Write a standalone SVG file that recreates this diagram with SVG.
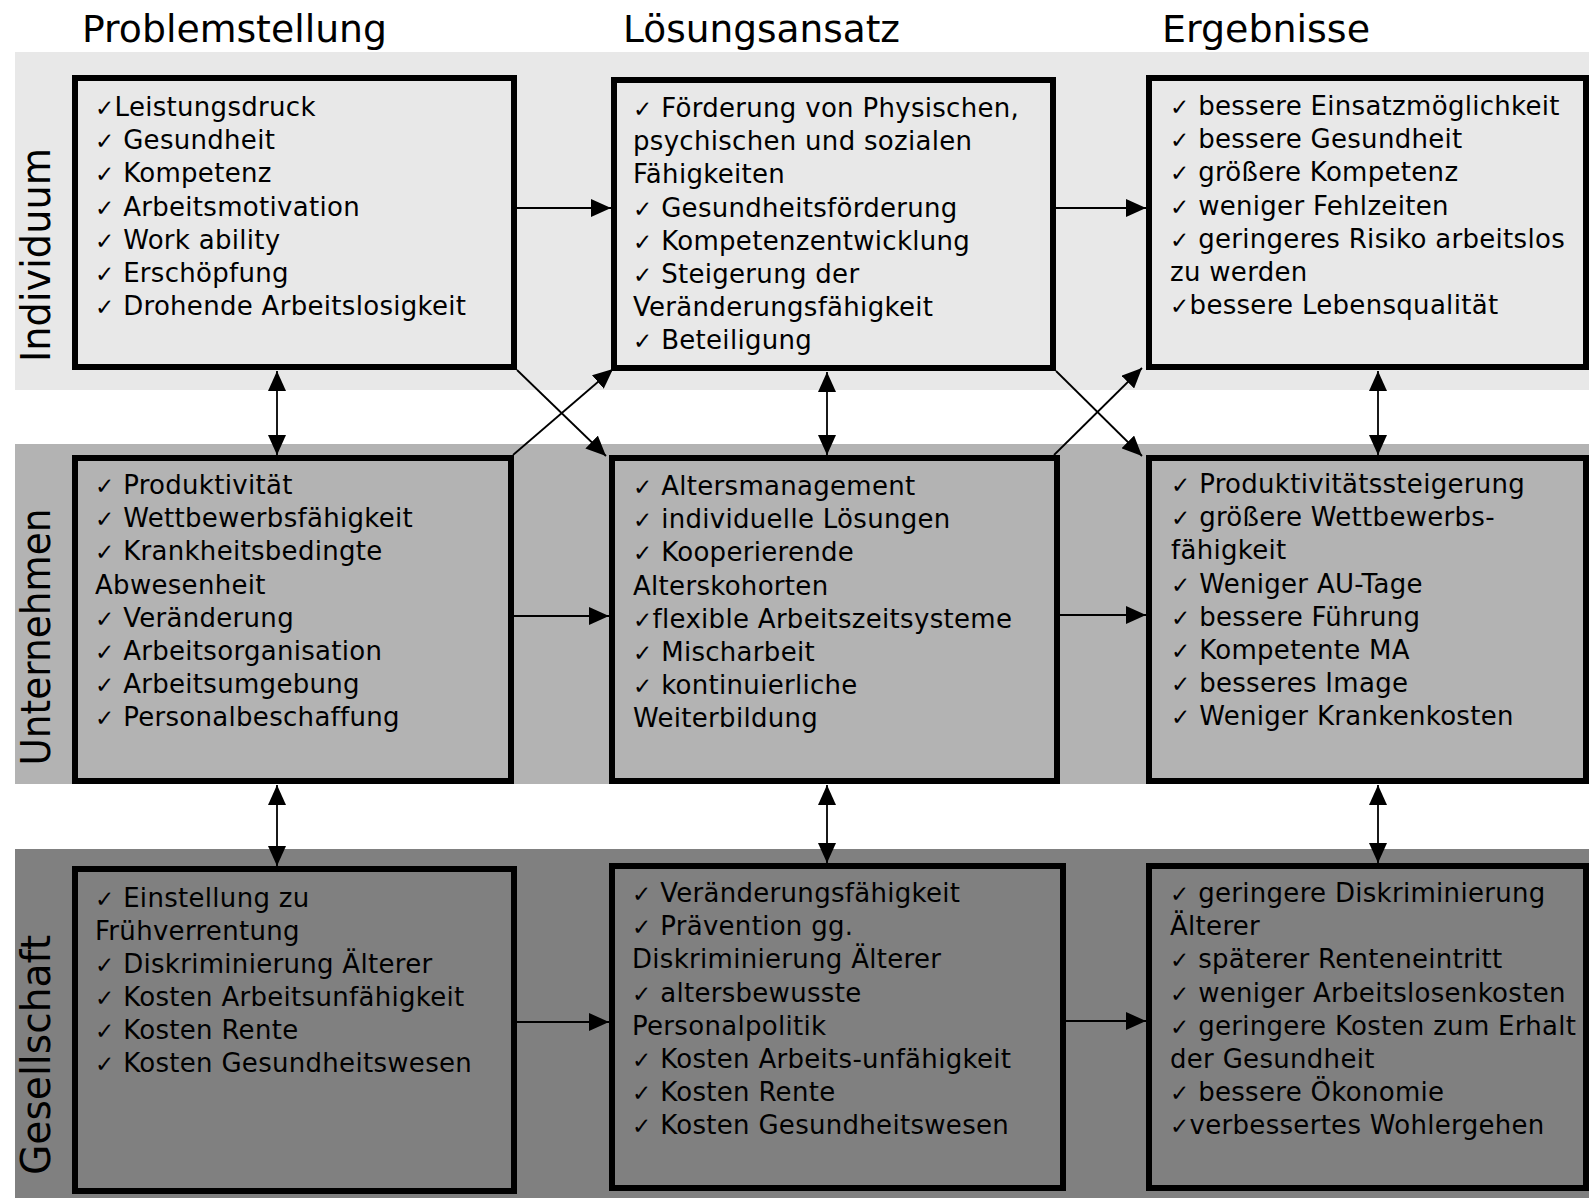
<svg xmlns="http://www.w3.org/2000/svg" width="1589" height="1198" viewBox="0 0 1589 1198">
<style>
  .hdr{font-family:"DejaVu Sans","Liberation Sans",sans-serif;font-size:37px;fill:#000}
  .lbl{font-family:"DejaVu Sans","Liberation Sans",sans-serif;font-size:40px;fill:#000;text-anchor:middle}
  .t{font-family:"DejaVu Sans","Liberation Sans",sans-serif;font-size:26px;fill:#000;letter-spacing:0.3px}
  .ck{font-size:23px}
  .box{stroke:#000;stroke-width:6}
  .b1{fill:#e8e8e8}
  .b2{fill:#b3b3b3}
  .b3{fill:#808080}
  .cn{stroke:#000;stroke-width:1.8;fill:none}
</style>
<defs>
  <marker id="ah" viewBox="0 0 20 18" refX="20" refY="9" markerWidth="20" markerHeight="18" markerUnits="userSpaceOnUse" orient="auto-start-reverse">
    <path d="M0,0 L20,9 L0,18 z" fill="#000"/>
  </marker>
</defs>
<rect width="1589" height="1198" fill="#fff"/>
<g id="bands">
  <rect class="b1" x="15" y="52" width="1574" height="338"/>
  <rect class="b2" x="15" y="444" width="1574" height="340"/>
  <rect class="b3" x="15" y="849" width="1574" height="349"/>
</g>
<g id="headers">
  <text class="hdr" x="82" y="42" textLength="305" lengthAdjust="spacingAndGlyphs">Problemstellung</text>
  <text class="hdr" x="623" y="42" textLength="277" lengthAdjust="spacingAndGlyphs">Lösungsansatz</text>
  <text class="hdr" x="1162" y="42" textLength="208" lengthAdjust="spacingAndGlyphs">Ergebnisse</text>
</g>
<g id="rowlabels">
  <text class="lbl" transform="translate(50,255) rotate(-90)" textLength="214" lengthAdjust="spacingAndGlyphs">Individuum</text>
  <text class="lbl" transform="translate(50,637) rotate(-90)" textLength="257" lengthAdjust="spacingAndGlyphs">Unternehmen</text>
  <text class="lbl" transform="translate(50,1055) rotate(-90)" textLength="240" lengthAdjust="spacingAndGlyphs">Gesellschaft</text>
</g>
<g id="connectors">
  <line class="cn" x1="517" y1="208" x2="611" y2="208" marker-end="url(#ah)"/>
  <line class="cn" x1="1056" y1="208" x2="1146" y2="208" marker-end="url(#ah)"/>
  <line class="cn" x1="514" y1="616" x2="609" y2="616" marker-end="url(#ah)"/>
  <line class="cn" x1="1060" y1="615" x2="1146" y2="615" marker-end="url(#ah)"/>
  <line class="cn" x1="517" y1="1022" x2="609" y2="1022" marker-end="url(#ah)"/>
  <line class="cn" x1="1066" y1="1021" x2="1146" y2="1021" marker-end="url(#ah)"/>
  <line class="cn" x1="277" y1="371" x2="277" y2="455" marker-start="url(#ah)" marker-end="url(#ah)"/>
  <line class="cn" x1="827" y1="372" x2="827" y2="455" marker-start="url(#ah)" marker-end="url(#ah)"/>
  <line class="cn" x1="1378" y1="371" x2="1378" y2="455" marker-start="url(#ah)" marker-end="url(#ah)"/>
  <line class="cn" x1="277" y1="785" x2="277" y2="866" marker-start="url(#ah)" marker-end="url(#ah)"/>
  <line class="cn" x1="827" y1="785" x2="827" y2="863" marker-start="url(#ah)" marker-end="url(#ah)"/>
  <line class="cn" x1="1378" y1="785" x2="1378" y2="863" marker-start="url(#ah)" marker-end="url(#ah)"/>
  <line class="cn" x1="517" y1="370" x2="606" y2="456" marker-end="url(#ah)"/>
  <line class="cn" x1="513" y1="455" x2="613" y2="369" marker-end="url(#ah)"/>
  <line class="cn" x1="1056" y1="371" x2="1142" y2="456" marker-end="url(#ah)"/>
  <line class="cn" x1="1054" y1="455" x2="1142" y2="368" marker-end="url(#ah)"/>
</g>
<g id="ind-problem">
  <rect class="box b1" x="75" y="78" width="439" height="289"/>
  <text class="t">
    <tspan x="95" y="116"><tspan class="ck">✓</tspan>Leistungsdruck</tspan>
    <tspan x="95" y="149.2"><tspan class="ck">✓</tspan> Gesundheit</tspan>
    <tspan x="95" y="182.4"><tspan class="ck">✓</tspan> Kompetenz</tspan>
    <tspan x="95" y="215.6"><tspan class="ck">✓</tspan> Arbeitsmotivation</tspan>
    <tspan x="95" y="248.8"><tspan class="ck">✓</tspan> Work ability</tspan>
    <tspan x="95" y="282"><tspan class="ck">✓</tspan> Erschöpfung</tspan>
    <tspan x="95" y="315.2"><tspan class="ck">✓</tspan> Drohende Arbeitslosigkeit</tspan>
  </text>
</g>
<g id="ind-loesung">
  <rect class="box b1" x="614" y="80" width="439" height="288"/>
  <text class="t">
    <tspan x="633" y="117"><tspan class="ck">✓</tspan> Förderung von Physischen,</tspan>
    <tspan x="633" y="150.2">psychischen und sozialen</tspan>
    <tspan x="633" y="183.4">Fähigkeiten</tspan>
    <tspan x="633" y="216.6"><tspan class="ck">✓</tspan> Gesundheitsförderung</tspan>
    <tspan x="633" y="249.8"><tspan class="ck">✓</tspan> Kompetenzentwicklung</tspan>
    <tspan x="633" y="283"><tspan class="ck">✓</tspan> Steigerung der</tspan>
    <tspan x="633" y="316.2">Veränderungsfähigkeit</tspan>
    <tspan x="633" y="349.4"><tspan class="ck">✓</tspan> Beteiligung</tspan>
  </text>
</g>
<g id="ind-ergebnis">
  <rect class="box b1" x="1149" y="78" width="437" height="289"/>
  <text class="t">
    <tspan x="1170" y="115"><tspan class="ck">✓</tspan> bessere Einsatzmöglichkeit</tspan>
    <tspan x="1170" y="148.2"><tspan class="ck">✓</tspan> bessere Gesundheit</tspan>
    <tspan x="1170" y="181.4"><tspan class="ck">✓</tspan> größere Kompetenz</tspan>
    <tspan x="1170" y="214.6"><tspan class="ck">✓</tspan> weniger Fehlzeiten</tspan>
    <tspan x="1170" y="247.8"><tspan class="ck">✓</tspan> geringeres Risiko arbeitslos</tspan>
    <tspan x="1170" y="281">zu werden</tspan>
    <tspan x="1170" y="314.2"><tspan class="ck">✓</tspan>bessere Lebensqualität</tspan>
  </text>
</g>
<g id="unt-problem">
  <rect class="box b2" x="75" y="458" width="436" height="323"/>
  <text class="t">
    <tspan x="95" y="494"><tspan class="ck">✓</tspan> Produktivität</tspan>
    <tspan x="95" y="527.2"><tspan class="ck">✓</tspan> Wettbewerbsfähigkeit</tspan>
    <tspan x="95" y="560.4"><tspan class="ck">✓</tspan> Krankheitsbedingte</tspan>
    <tspan x="95" y="593.6">Abwesenheit</tspan>
    <tspan x="95" y="626.8"><tspan class="ck">✓</tspan> Veränderung</tspan>
    <tspan x="95" y="660"><tspan class="ck">✓</tspan> Arbeitsorganisation</tspan>
    <tspan x="95" y="693.2"><tspan class="ck">✓</tspan> Arbeitsumgebung</tspan>
    <tspan x="95" y="726.4"><tspan class="ck">✓</tspan> Personalbeschaffung</tspan>
  </text>
</g>
<g id="unt-loesung">
  <rect class="box b2" x="612" y="458" width="445" height="323"/>
  <text class="t">
    <tspan x="633" y="495"><tspan class="ck">✓</tspan> Altersmanagement</tspan>
    <tspan x="633" y="528.2"><tspan class="ck">✓</tspan> individuelle Lösungen</tspan>
    <tspan x="633" y="561.4"><tspan class="ck">✓</tspan> Kooperierende</tspan>
    <tspan x="633" y="594.6">Alterskohorten</tspan>
    <tspan x="633" y="627.8"><tspan class="ck">✓</tspan>flexible Arbeitszeitsysteme</tspan>
    <tspan x="633" y="661"><tspan class="ck">✓</tspan> Mischarbeit</tspan>
    <tspan x="633" y="694.2"><tspan class="ck">✓</tspan> kontinuierliche</tspan>
    <tspan x="633" y="727.4">Weiterbildung</tspan>
  </text>
</g>
<g id="unt-ergebnis">
  <rect class="box b2" x="1149" y="458" width="437" height="323"/>
  <text class="t">
    <tspan x="1171" y="493"><tspan class="ck">✓</tspan> Produktivitätssteigerung</tspan>
    <tspan x="1171" y="526.2"><tspan class="ck">✓</tspan> größere Wettbewerbs-</tspan>
    <tspan x="1171" y="559.4">fähigkeit</tspan>
    <tspan x="1171" y="592.6"><tspan class="ck">✓</tspan> Weniger AU-Tage</tspan>
    <tspan x="1171" y="625.8"><tspan class="ck">✓</tspan> bessere Führung</tspan>
    <tspan x="1171" y="659"><tspan class="ck">✓</tspan> Kompetente MA</tspan>
    <tspan x="1171" y="692.2"><tspan class="ck">✓</tspan> besseres Image</tspan>
    <tspan x="1171" y="725.4"><tspan class="ck">✓</tspan> Weniger Krankenkosten</tspan>
  </text>
</g>
<g id="ges-problem">
  <rect class="box b3" x="75" y="869" width="439" height="322"/>
  <text class="t">
    <tspan x="95" y="907"><tspan class="ck">✓</tspan> Einstellung zu</tspan>
    <tspan x="95" y="940">Frühverrentung</tspan>
    <tspan x="95" y="973"><tspan class="ck">✓</tspan> Diskriminierung Älterer</tspan>
    <tspan x="95" y="1006"><tspan class="ck">✓</tspan> Kosten Arbeitsunfähigkeit</tspan>
    <tspan x="95" y="1039"><tspan class="ck">✓</tspan> Kosten Rente</tspan>
    <tspan x="95" y="1072"><tspan class="ck">✓</tspan> Kosten Gesundheitswesen</tspan>
  </text>
</g>
<g id="ges-loesung">
  <rect class="box b3" x="612" y="866" width="451" height="322"/>
  <text class="t">
    <tspan x="632" y="902"><tspan class="ck">✓</tspan> Veränderungsfähigkeit</tspan>
    <tspan x="632" y="935.2"><tspan class="ck">✓</tspan> Prävention gg.</tspan>
    <tspan x="632" y="968.4">Diskriminierung Älterer</tspan>
    <tspan x="632" y="1001.6"><tspan class="ck">✓</tspan> altersbewusste</tspan>
    <tspan x="632" y="1034.8">Personalpolitik</tspan>
    <tspan x="632" y="1068"><tspan class="ck">✓</tspan> Kosten Arbeits-unfähigkeit</tspan>
    <tspan x="632" y="1101.2"><tspan class="ck">✓</tspan> Kosten Rente</tspan>
    <tspan x="632" y="1134.4"><tspan class="ck">✓</tspan> Kosten Gesundheitswesen</tspan>
  </text>
</g>
<g id="ges-ergebnis">
  <rect class="box b3" x="1149" y="866" width="437" height="322"/>
  <text class="t">
    <tspan x="1170" y="902"><tspan class="ck">✓</tspan> geringere Diskriminierung</tspan>
    <tspan x="1170" y="935.2">Älterer</tspan>
    <tspan x="1170" y="968.4"><tspan class="ck">✓</tspan> späterer Renteneintritt</tspan>
    <tspan x="1170" y="1001.6"><tspan class="ck">✓</tspan> weniger Arbeitslosenkosten</tspan>
    <tspan x="1170" y="1034.8"><tspan class="ck">✓</tspan> geringere Kosten zum Erhalt</tspan>
    <tspan x="1170" y="1068">der Gesundheit</tspan>
    <tspan x="1170" y="1101.2"><tspan class="ck">✓</tspan> bessere Ökonomie</tspan>
    <tspan x="1170" y="1134.4"><tspan class="ck">✓</tspan>verbessertes Wohlergehen</tspan>
  </text>
</g>
</svg>
